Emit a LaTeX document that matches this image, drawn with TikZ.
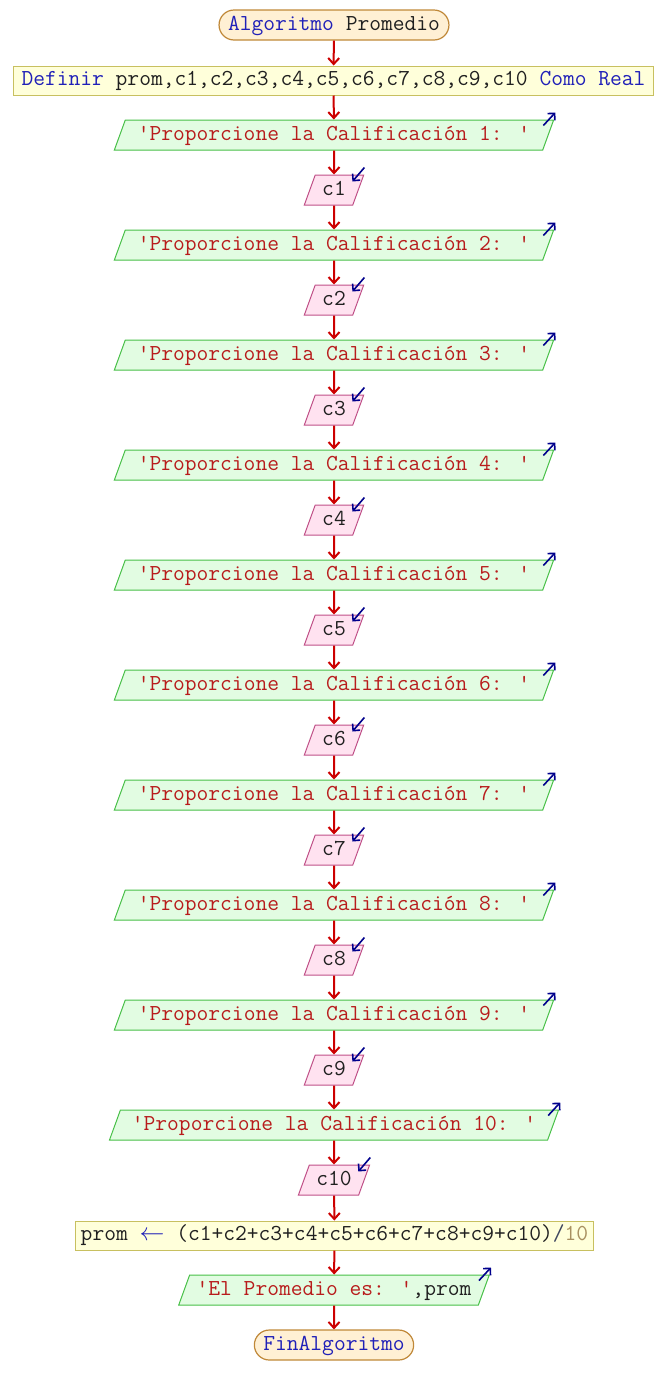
\documentclass[tikz,border=0pt]{standalone}
\usepackage{fontspec}
\usetikzlibrary{shapes.geometric,arrows.meta}

\definecolor{kwblue}{HTML}{2020B8}
\definecolor{idblack}{HTML}{202020}
\definecolor{strred}{HTML}{B81C1C}
\definecolor{numtan}{HTML}{A89060}
\definecolor{opslate}{HTML}{404860}
\definecolor{termfill}{HTML}{FFF0D4}
\definecolor{termline}{HTML}{C08838}
\definecolor{procfill}{HTML}{FFFFDA}
\definecolor{procline}{HTML}{C8C060}
\definecolor{outfill}{HTML}{E2FCE2}
\definecolor{outline}{HTML}{48C048}
\definecolor{infill}{HTML}{FFE2F0}
\definecolor{inline}{HTML}{C05088}
\definecolor{flowred}{HTML}{CC0000}
\definecolor{markblue}{HTML}{00008C}

\tikzset{
	every node/.style={font=\ttfamily\fontsize{22.86}{26}\selectfont, text=idblack, text height=14pt, text depth=4pt, inner ysep=6pt},
	terminal/.style={draw=termline, fill=termfill, line width=1.2pt, rounded corners=15pt, inner xsep=9pt},
	process/.style={draw=procline, fill=procfill, line width=1pt, inner xsep=5.5pt, inner ysep=5.5pt},
	outbox/.style={trapezium, trapezium left angle=70, trapezium right angle=110, draw=outline, fill=outfill, line width=1pt, inner xsep=12.5pt, text=strred},
	inbox/.style={trapezium, trapezium left angle=70, trapezium right angle=110, draw=inline, fill=infill, line width=1pt, inner xsep=7pt},
	flowline/.style={draw=flowred, line width=2pt, -{Straight Barb[length=6pt,width=11pt]}},
	iomark/.style={draw=markblue, line width=1.6pt, -{Straight Barb[length=5pt,width=10pt]}},
}

\newcommand{\kw}[1]{{\color{kwblue}#1}}

\begin{document}
\begin{tikzpicture}[x=1pt,y=-1pt]
		\useasboundingbox (0,0) rectangle (668,1395);
		\node (start) at (334,25)[terminal]{\kw{Algoritmo} Promedio} ;
		\node (def) at (333.5,80.5)[process, inner xsep=8.5pt]{\kw{Definir} prom,c1,c2,c3,c4,c5,c6,c7,c8,c9,c10 \kw{Como} \kw{Real}} ;
		\node (o1) at (334,135)[outbox]{'Proporcione la Calificación 1: '} ;
		\node (i1) at (334,190)[inbox]{c1} ;
		\node (o2) at (334,245)[outbox]{'Proporcione la Calificación 2: '} ;
		\node (i2) at (334,300)[inbox]{c2} ;
		\node (o3) at (334,355)[outbox]{'Proporcione la Calificación 3: '} ;
		\node (i3) at (334,410)[inbox]{c3} ;
		\node (o4) at (334,465)[outbox]{'Proporcione la Calificación 4: '} ;
		\node (i4) at (334,520)[inbox]{c4} ;
		\node (o5) at (334,575)[outbox]{'Proporcione la Calificación 5: '} ;
		\node (i5) at (334,630)[inbox]{c5} ;
		\node (o6) at (334,685)[outbox]{'Proporcione la Calificación 6: '} ;
		\node (i6) at (334,740)[inbox]{c6} ;
		\node (o7) at (334,795)[outbox]{'Proporcione la Calificación 7: '} ;
		\node (i7) at (334,850)[inbox]{c7} ;
		\node (o8) at (334,905)[outbox]{'Proporcione la Calificación 8: '} ;
		\node (i8) at (334,960)[inbox]{c8} ;
		\node (o9) at (334,1015)[outbox]{'Proporcione la Calificación 9: '} ;
		\node (i9) at (334,1070)[inbox]{c9} ;
		\node (o10) at (334,1125)[outbox, inner xsep=11.5pt]{'Proporcione la Calificación 10: '} ;
		\node (i10) at (334,1180)[inbox]{c10} ;
		\node (calc) at (334.5,1235.5)[process]{prom \kw{$\leftarrow$} (c1+c2+c3+c4+c5+c6+c7+c8+c9+c10){\color{opslate}/}{\color{numtan}10}} ;
		\node (res) at (334,1290)[outbox, inner xsep=7pt]{'El Promedio es: '{\color{idblack},prom}} ;
		\node (stop) at (334,1345)[terminal]{\kw{FinAlgoritmo}} ;
		% flow
		\draw[flowline] (start) -- (def);
		\draw[flowline] (def) -- (o1);
		\foreach \k [evaluate=\k as \n using int(\k+1)] in {1,...,9}
			{\draw[flowline] (o\k) -- (i\k);
			 \draw[flowline] (i\k) -- (o\n);}
		\draw[flowline] (o10) -- (i10);
		\draw[flowline] (i10) -- (calc);
		\draw[flowline] (calc) -- (res);
		\draw[flowline] (res) -- (stop);
		% io marks
		\foreach \k in {1,...,10}
			{\draw[iomark] ([shift={(-11,6)}]o\k.top right corner) -- ([shift={(1,-7)}]o\k.top right corner);
			 \draw[iomark] ([shift={(0,-7)}]i\k.top right corner) -- ([shift={(-12,7)}]i\k.top right corner);}
		\draw[iomark] ([shift={(-11,6)}]res.top right corner) -- ([shift={(1,-7)}]res.top right corner);
\end{tikzpicture}
\end{document}
